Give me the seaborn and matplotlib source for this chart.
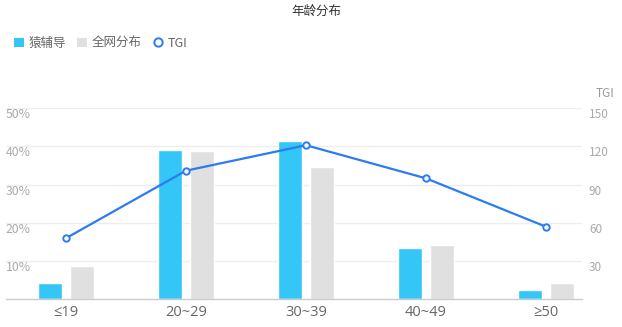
import numpy as np
import pandas as pd
import matplotlib
matplotlib.use("Agg")
import matplotlib.pyplot as plt
import seaborn as sns
from matplotlib.patches import Patch
from matplotlib.lines import Line2D

categories = ["≤19", "20~29", "30~39", "40~49", "≥50"]
yuanfudao = [4.2, 39.1, 41.4, 13.5, 2.4]
quanwang = [8.6, 38.8, 34.6, 14.2, 4.3]
tgi = [48, 101, 121, 95, 57]
series_names = ["猿辅导", "全网分布", "TGI"]
left_ticks = [10, 20, 30, 40, 50]
left_ticklabels = ["10%", "20%", "30%", "40%", "50%"]
right_ticks = [30, 60, 90, 120, 150]

BLUE = "#33c6f7"
GRAY = "#e0e0e0"
LINE = "#2b7bf3"

sns.set_theme(style="white")
plt.rcParams["font.family"] = ["Noto Sans CJK SC", "DejaVu Sans"]

df = pd.DataFrame({
    "cat": categories * 2,
    "val": yuanfudao + quanwang,
    "series": [series_names[0]] * len(categories) + [series_names[1]] * len(categories),
})

fig = plt.figure(figsize=(6.22, 3.27), dpi=100)
ax = fig.add_axes([6 / 622, 27.7 / 327, 576 / 622, 191 / 327])

sns.barplot(data=df, x="cat", y="val", hue="series", order=categories,
            palette=[BLUE, GRAY], width=0.52, gap=0.23, saturation=1,
            ax=ax, legend=False)

ax.set_xlim(-0.5, 4.3)
ax.set_ylim(0, 50)
ax.set_xlabel("")
ax.set_ylabel("")
ax.set_yticks(left_ticks)
ax.set_yticklabels(left_ticklabels)
ax.grid(axis="y", color="#eeeeee", linewidth=1)
ax.set_axisbelow(True)
for s in ["top", "right", "left"]:
    ax.spines[s].set_visible(False)
ax.spines["bottom"].set_color("#cccccc")
ax.spines["bottom"].set_linewidth(1)
ax.tick_params(axis="x", length=0, pad=4, labelsize=10.5, labelcolor="#666666")
for lbl in ax.get_xticklabels():
    lbl.set_family(["Open Sans", "DejaVu Sans"])
ax.tick_params(axis="y", length=0, pad=0, labelsize=8.8, labelcolor="#aaaaaa")
for lbl in ax.get_yticklabels():
    lbl.set_horizontalalignment("left")
    lbl.set_verticalalignment("top")

ax2 = ax.twinx()
sns.lineplot(x=np.arange(len(categories)), y=tgi, ax=ax2, color=LINE,
             linewidth=1.6, marker="o", markersize=4.6, markerfacecolor="white",
             markeredgecolor=LINE, markeredgewidth=1.4)
ax2.set_ylim(0, 150)
ax2.set_yticks(right_ticks)
ax2.tick_params(axis="y", length=0, pad=5, labelsize=8.5, labelcolor="#aaaaaa")
for lbl in ax2.get_yticklabels():
    lbl.set_verticalalignment("top")
for s in ["top", "right", "left", "bottom"]:
    ax2.spines[s].set_visible(False)
ax2.grid(False)
ax2.set_xlim(-0.5, 4.3)

fig.text(605 / 622, 1 - 93 / 327, "TGI", ha="center", va="center",
         fontsize=8.5, color="#999999")

fig.text(316 / 622, 1 - 11 / 327, "年龄分布", ha="center", va="center",
         fontsize=9, color="#333333")

handles = [
    Patch(facecolor=BLUE, edgecolor="none"),
    Patch(facecolor=GRAY, edgecolor="none"),
    Line2D([0], [0], color="none", marker="o", markersize=6,
           markerfacecolor="white", markeredgecolor=LINE, markeredgewidth=1.4),
]
fig.legend(handles, series_names, loc="upper left",
           bbox_to_anchor=(14 / 622, 1 - 37 / 327), ncol=3, frameon=False,
           fontsize=9, handlelength=0.8, handleheight=0.8, handletextpad=0.4,
           columnspacing=0.85, borderpad=0, borderaxespad=0, labelcolor="#666666")

fig.savefig("out.png", dpi=100)
